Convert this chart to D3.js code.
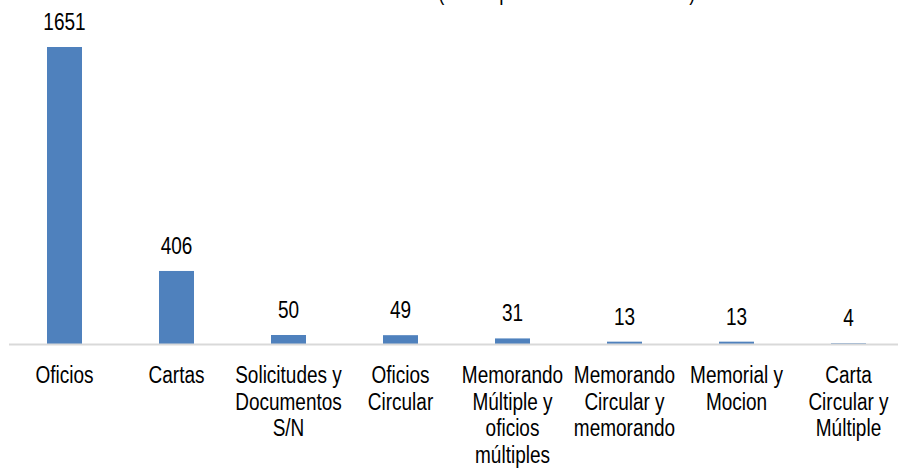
<!DOCTYPE html>
<html>
<head>
<meta charset="utf-8">
<script src="https://cdn.jsdelivr.net/npm/d3@7"></script>
<style>
    body { margin: 0; background: #fff; }
    text { font-family: 'Liberation Sans', Arial, sans-serif; fill: #000; }
</style>
</head>
<body>
<div id="chart"></div>
<script>
// documentos por tipo
const categories = [
    "Oficios",
    "Cartas",
    "Solicitudes y\nDocumentos\nS/N",
    "Oficios\nCircular",
    "Memorando\nMúltiple y\noficios\nmúltiples",
    "Memorando\nCircular y\nmemorando",
    "Memorial y\nMocion",
    "Carta\nCircular y\nMúltiple"
];
const values = [1651, 406, 50, 49, 31, 13, 13, 4];
const titleText = "(Cifras por cantidad de oficios)";

const width = 898, height = 470;
const fontSize = 19;
const stretch = 1.25; // letters are taller than wide, like a narrow font

const svg = d3.select("#chart")
    .append("svg")
    .attr("width", width)
    .attr("height", height);

const x = d3.scaleBand()
    .domain(categories)
    .range([8.5, 904.5])
    .paddingInner(0.6875)
    .paddingOuter(0.34375);

const y = d3.scaleLinear()
    .domain([0, 1800])
    .range([344, 20.2]);

// title, mostly cut off at the top (only descenders show)
svg.append("text")
    .attr("transform", "translate(438,-0.5) scale(1," + stretch + ")")
    .attr("font-size", fontSize)
    .text(titleText);

svg.selectAll(".bar")
    .data(values)
    .enter()
    .append("rect")
    .attr("class", "bar")
    .attr("x", (d, i) => x(categories[i]))
    .attr("width", x.bandwidth())
    .attr("y", d => y(d))
    .attr("height", d => y(0) - y(d))
    .attr("fill", "#4f81bd");

svg.selectAll(".val")
    .data(values)
    .enter()
    .append("text")
    .attr("class", "val")
    .attr("transform", (d, i) => "translate(" + (x(categories[i]) + x.bandwidth() / 2) + "," + (y(d) - 17) + ") scale(1," + stretch + ")")
    .attr("text-anchor", "middle")
    .attr("font-size", fontSize)
    .text(d => d);

const xAxis = svg.append("g")
    .attr("transform", "translate(0," + y(0) + ")")
    .call(d3.axisBottom(x).tickSize(0).tickSizeOuter(0).tickFormat(""));

xAxis.select(".domain")
    .attr("stroke", "#d9d9d9")
    .attr("stroke-width", 2);

xAxis.selectAll(".tick text").remove();

xAxis.selectAll(".tick")
    .append("text")
    .attr("text-anchor", "middle")
    .attr("font-size", fontSize)
    .attr("transform", "scale(1," + stretch + ")")
    .each(function(d) {
        const lines = d.split("\n");
        d3.select(this).selectAll("tspan")
            .data(lines)
            .enter()
            .append("tspan")
            .attr("x", 0)
            .attr("y", (l, i) => (39 + i * 26.7) / stretch)
            .text(l => l);
    });
</script>
</body>
</html>
